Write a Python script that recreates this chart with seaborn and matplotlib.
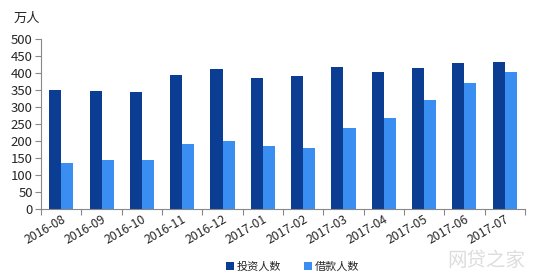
import matplotlib
matplotlib.use("Agg")
import matplotlib.pyplot as plt
import seaborn as sns
import pandas as pd
import numpy as np

months = ["2016-08", "2016-09", "2016-10", "2016-11", "2016-12", "2017-01",
          "2017-02", "2017-03", "2017-04", "2017-05", "2017-06", "2017-07"]
investors = [350, 346, 344, 395, 411, 384, 391, 418, 404, 413, 429, 431]
borrowers = [135, 145, 143, 190, 201, 186, 179, 238, 268, 321, 371, 402]
series_names = ["投资人数", "借款人数"]
colors = ["#0B3E93", "#3A8EF2"]

sns.set_theme(style="white")
plt.rcParams['font.family'] = ['Noto Sans CJK SC', 'DejaVu Sans']

df = pd.DataFrame({
    "month": months * 2,
    "value": investors + borrowers,
    "series": [series_names[0]] * len(months) + [series_names[1]] * len(months),
})

fig = plt.figure(figsize=(5.56, 2.76), dpi=100)
ax = fig.add_axes([0.074, 0.243, 0.87, 0.616])
sns.barplot(data=df, x="month", y="value", hue="series", palette=colors,
            width=0.6, ax=ax, saturation=1, legend=True, linewidth=0,
            edgecolor="none")

ax.set_ylim(0, 500)
ax.set_xlim(-0.5, len(months) - 0.5)
ax.set_yticks(range(0, 501, 50))
ax.set_xlabel("")
ax.set_ylabel("")
for s in ["top", "right"]:
    ax.spines[s].set_visible(False)
for s in ["left", "bottom"]:
    ax.spines[s].set_color("#888888")
    ax.spines[s].set_linewidth(0.8)

ax.tick_params(axis="y", which="major", length=4, width=0.8, color="#888888",
               labelsize=9.5, pad=2, left=True, direction="out")
ax.tick_params(axis="x", which="major", length=0, labelsize=8.8, pad=3)
ax.set_xticks(np.arange(-0.5, len(months), 1.0), minor=True)
ax.tick_params(axis="x", which="minor", length=4, width=0.8, color="#888888",
               bottom=True, direction="out")
for lab in ax.get_xticklabels():
    lab.set_rotation(30)
    lab.set_ha("right")
    lab.set_rotation_mode("anchor")

fig.text(0.025, 0.935, "万人", fontsize=9.5, ha="left", va="center")

leg = ax.legend(loc="upper center", bbox_to_anchor=(0.52, -0.25), ncol=2,
                frameon=False, fontsize=8, handlelength=0.7, handleheight=0.7,
                columnspacing=2.0, handletextpad=0.3)

fig.text(0.875, 0.055, "网贷之家", fontsize=14, color="#dddddd", ha="center",
         va="center")

fig.savefig("out.png", dpi=100)
